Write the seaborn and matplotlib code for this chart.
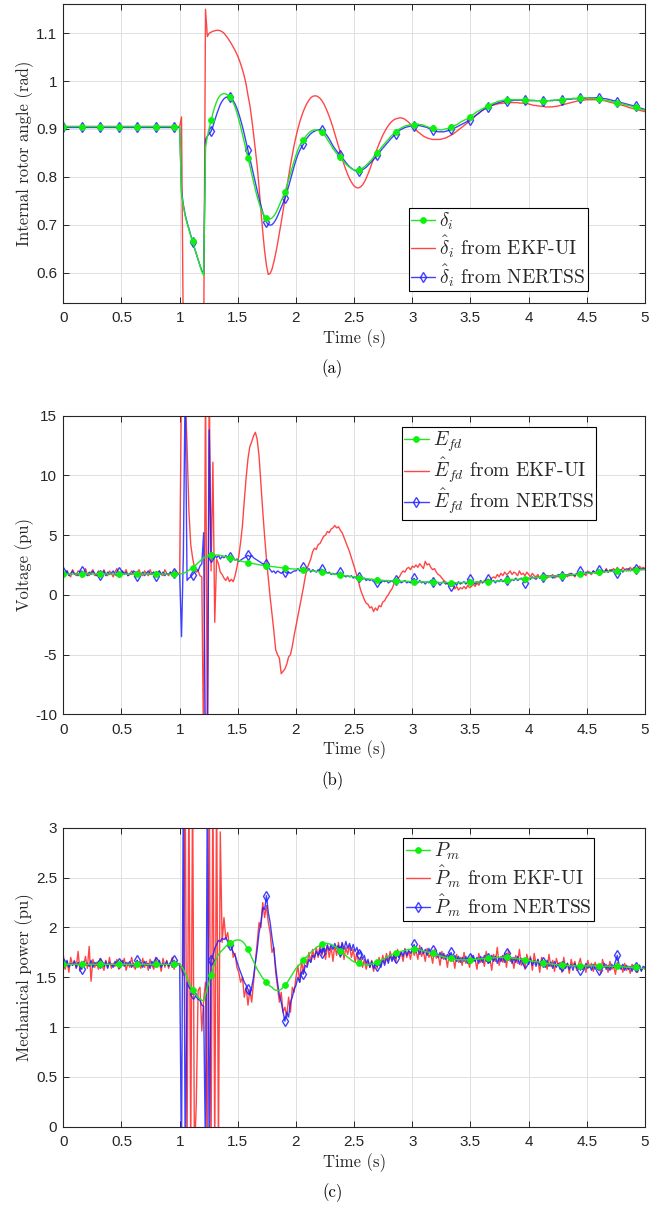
import numpy as np
import matplotlib
matplotlib.use("Agg")
import matplotlib.pyplot as plt
import seaborn as sns
from matplotlib.ticker import FuncFormatter

# ---------------- data (sampled every 1/63 s, 0..5 s, 316 samples) ----------------
time_start, time_end, n_samples = 0.0, 5.0, 316

# Panel (a): internal rotor angle (rad)
delta_true = [
    0.905, 0.905, 0.905, 0.905, 0.905, 0.905, 0.905,
    0.905, 0.905, 0.905, 0.905, 0.905, 0.905, 0.905,
    0.905, 0.905, 0.905, 0.905, 0.905, 0.905, 0.905,
    0.905, 0.905, 0.905, 0.905, 0.905, 0.905, 0.905,
    0.905, 0.905, 0.905, 0.905, 0.905, 0.905, 0.905,
    0.905, 0.905, 0.905, 0.905, 0.905, 0.905, 0.905,
    0.905, 0.905, 0.905, 0.905, 0.905, 0.905, 0.905,
    0.905, 0.905, 0.905, 0.905, 0.905, 0.905, 0.905,
    0.905, 0.905, 0.905, 0.905, 0.905, 0.905, 0.905,
    0.905, 0.765, 0.738, 0.718, 0.703, 0.690, 0.677,
    0.665, 0.652, 0.640, 0.627, 0.614, 0.602, 0.594,
    0.862, 0.884, 0.902, 0.918, 0.933, 0.946, 0.957,
    0.965, 0.970, 0.973, 0.974, 0.973, 0.971, 0.967,
    0.962, 0.955, 0.946, 0.934, 0.920, 0.905, 0.889,
    0.872, 0.856, 0.840, 0.823, 0.806, 0.789, 0.773,
    0.758, 0.745, 0.733, 0.724, 0.717, 0.713, 0.711,
    0.712, 0.714, 0.718, 0.724, 0.732, 0.741, 0.750,
    0.759, 0.769, 0.781, 0.794, 0.807, 0.820, 0.833,
    0.845, 0.856, 0.865, 0.871, 0.877, 0.883, 0.888,
    0.892, 0.895, 0.897, 0.898, 0.898, 0.897, 0.895,
    0.893, 0.889, 0.884, 0.878, 0.872, 0.866, 0.859,
    0.854, 0.849, 0.845, 0.841, 0.836, 0.831, 0.827,
    0.823, 0.820, 0.817, 0.815, 0.814, 0.814, 0.815,
    0.816, 0.818, 0.821, 0.824, 0.828, 0.832, 0.836,
    0.841, 0.845, 0.850, 0.855, 0.860, 0.865, 0.869,
    0.874, 0.878, 0.883, 0.887, 0.891, 0.894, 0.897,
    0.900, 0.902, 0.904, 0.906, 0.907, 0.908, 0.909,
    0.909, 0.909, 0.910, 0.910, 0.909, 0.909, 0.908,
    0.906, 0.905, 0.903, 0.902, 0.901, 0.900, 0.899,
    0.899, 0.898, 0.898, 0.899, 0.900, 0.901, 0.902,
    0.903, 0.905, 0.907, 0.909, 0.911, 0.914, 0.916,
    0.918, 0.920, 0.922, 0.924, 0.927, 0.930, 0.933,
    0.936, 0.938, 0.940, 0.942, 0.944, 0.946, 0.948,
    0.950, 0.952, 0.954, 0.955, 0.957, 0.958, 0.959,
    0.960, 0.960, 0.961, 0.961, 0.961, 0.961, 0.961,
    0.961, 0.961, 0.961, 0.961, 0.961, 0.961, 0.960,
    0.960, 0.960, 0.960, 0.960, 0.959, 0.959, 0.959,
    0.959, 0.959, 0.959, 0.959, 0.959, 0.960, 0.960,
    0.960, 0.960, 0.961, 0.961, 0.961, 0.962, 0.962,
    0.963, 0.963, 0.963, 0.964, 0.964, 0.964, 0.965,
    0.965, 0.965, 0.965, 0.965, 0.965, 0.964, 0.964,
    0.964, 0.963, 0.963, 0.963, 0.962, 0.961, 0.960,
    0.960, 0.959, 0.958, 0.957, 0.956, 0.956, 0.955,
    0.954, 0.953, 0.952, 0.951, 0.950, 0.949, 0.948,
    0.947, 0.946, 0.945, 0.943, 0.942, 0.941, 0.940,
    0.938,
]

delta_ekf = [
    0.905, 0.905, 0.905, 0.905, 0.905, 0.905, 0.905,
    0.905, 0.905, 0.905, 0.905, 0.905, 0.905, 0.905,
    0.905, 0.905, 0.905, 0.905, 0.905, 0.905, 0.905,
    0.905, 0.905, 0.905, 0.905, 0.905, 0.905, 0.905,
    0.905, 0.905, 0.905, 0.905, 0.905, 0.905, 0.905,
    0.905, 0.905, 0.905, 0.905, 0.905, 0.905, 0.905,
    0.905, 0.905, 0.905, 0.905, 0.905, 0.905, 0.905,
    0.905, 0.905, 0.905, 0.905, 0.905, 0.905, 0.905,
    0.905, 0.905, 0.905, 0.905, 0.905, 0.905, 0.905,
    0.905, 0.925, 0.450, 0.450, 0.450, 0.450, 0.450,
    0.450, 0.450, 0.450, 0.450, 0.450, 0.450, 0.450,
    1.150, 1.093, 1.100, 1.102, 1.104, 1.105, 1.106,
    1.106, 1.105, 1.103, 1.100, 1.095, 1.090, 1.084,
    1.078, 1.071, 1.064, 1.056, 1.047, 1.036, 1.024,
    1.010, 0.993, 0.970, 0.950, 0.922, 0.890, 0.856,
    0.822, 0.778, 0.730, 0.685, 0.645, 0.615, 0.596,
    0.598, 0.607, 0.622, 0.640, 0.660, 0.682, 0.705,
    0.729, 0.754, 0.778, 0.802, 0.825, 0.846, 0.866,
    0.884, 0.900, 0.914, 0.926, 0.937, 0.946, 0.954,
    0.960, 0.965, 0.968, 0.969, 0.969, 0.967, 0.964,
    0.959, 0.953, 0.945, 0.936, 0.926, 0.915, 0.903,
    0.890, 0.877, 0.864, 0.851, 0.838, 0.826, 0.815,
    0.805, 0.796, 0.789, 0.783, 0.779, 0.777, 0.777,
    0.779, 0.783, 0.789, 0.797, 0.806, 0.816, 0.827,
    0.838, 0.849, 0.859, 0.869, 0.878, 0.887, 0.894,
    0.901, 0.907, 0.912, 0.916, 0.919, 0.921, 0.922,
    0.923, 0.923, 0.922, 0.920, 0.917, 0.914, 0.910,
    0.906, 0.902, 0.898, 0.894, 0.891, 0.888, 0.885,
    0.883, 0.881, 0.880, 0.879, 0.878, 0.878, 0.878,
    0.878, 0.878, 0.879, 0.880, 0.881, 0.883, 0.885,
    0.887, 0.889, 0.892, 0.895, 0.898, 0.901, 0.904,
    0.907, 0.910, 0.913, 0.916, 0.920, 0.923, 0.927,
    0.930, 0.933, 0.936, 0.939, 0.942, 0.944, 0.946,
    0.948, 0.949, 0.950, 0.951, 0.952, 0.953, 0.953,
    0.954, 0.954, 0.955, 0.955, 0.955, 0.955, 0.955,
    0.955, 0.955, 0.954, 0.954, 0.954, 0.953, 0.953,
    0.952, 0.951, 0.950, 0.949, 0.949, 0.948, 0.948,
    0.947, 0.947, 0.946, 0.946, 0.946, 0.946, 0.946,
    0.947, 0.947, 0.948, 0.949, 0.950, 0.951, 0.952,
    0.953, 0.954, 0.955, 0.956, 0.957, 0.958, 0.959,
    0.959, 0.960, 0.960, 0.961, 0.961, 0.961, 0.961,
    0.961, 0.961, 0.961, 0.961, 0.960, 0.960, 0.959,
    0.958, 0.957, 0.956, 0.955, 0.954, 0.953, 0.952,
    0.951, 0.950, 0.949, 0.948, 0.947, 0.945, 0.944,
    0.943, 0.942, 0.941, 0.940, 0.939, 0.938, 0.937,
    0.936,
]

delta_nertss = [
    0.903, 0.903, 0.903, 0.903, 0.903, 0.903, 0.903,
    0.903, 0.903, 0.903, 0.903, 0.903, 0.903, 0.903,
    0.903, 0.903, 0.903, 0.903, 0.903, 0.903, 0.903,
    0.903, 0.903, 0.903, 0.903, 0.903, 0.903, 0.903,
    0.903, 0.903, 0.903, 0.903, 0.903, 0.903, 0.903,
    0.903, 0.903, 0.903, 0.903, 0.903, 0.903, 0.903,
    0.903, 0.903, 0.903, 0.903, 0.903, 0.903, 0.903,
    0.903, 0.903, 0.903, 0.903, 0.903, 0.903, 0.903,
    0.903, 0.903, 0.903, 0.903, 0.903, 0.903, 0.903,
    0.903, 0.770, 0.742, 0.721, 0.705, 0.692, 0.678,
    0.664, 0.651, 0.639, 0.627, 0.615, 0.604, 0.598,
    0.878, 0.885, 0.890, 0.895, 0.905, 0.918, 0.930,
    0.941, 0.951, 0.958, 0.963, 0.966, 0.967, 0.967,
    0.964, 0.959, 0.952, 0.943, 0.932, 0.919, 0.905,
    0.889, 0.872, 0.856, 0.839, 0.822, 0.805, 0.788,
    0.771, 0.755, 0.740, 0.726, 0.714, 0.705, 0.700,
    0.699, 0.700, 0.704, 0.710, 0.718, 0.727, 0.736,
    0.745, 0.755, 0.767, 0.780, 0.794, 0.808, 0.822,
    0.835, 0.846, 0.855, 0.862, 0.868, 0.875, 0.881,
    0.886, 0.890, 0.893, 0.895, 0.897, 0.898, 0.898,
    0.897, 0.894, 0.890, 0.885, 0.879, 0.872, 0.865,
    0.859, 0.854, 0.849, 0.845, 0.840, 0.835, 0.830,
    0.825, 0.821, 0.818, 0.815, 0.813, 0.812, 0.812,
    0.813, 0.815, 0.817, 0.820, 0.824, 0.828, 0.832,
    0.836, 0.840, 0.845, 0.850, 0.855, 0.860, 0.864,
    0.869, 0.873, 0.878, 0.882, 0.886, 0.890, 0.894,
    0.897, 0.899, 0.901, 0.903, 0.904, 0.905, 0.906,
    0.906, 0.906, 0.907, 0.907, 0.907, 0.906, 0.905,
    0.904, 0.903, 0.901, 0.899, 0.897, 0.896, 0.895,
    0.894, 0.894, 0.894, 0.894, 0.895, 0.896, 0.897,
    0.899, 0.900, 0.902, 0.904, 0.906, 0.908, 0.910,
    0.912, 0.914, 0.916, 0.918, 0.921, 0.924, 0.927,
    0.930, 0.933, 0.936, 0.939, 0.941, 0.943, 0.945,
    0.947, 0.949, 0.951, 0.953, 0.954, 0.955, 0.956,
    0.957, 0.958, 0.958, 0.959, 0.959, 0.959, 0.960,
    0.960, 0.960, 0.960, 0.960, 0.960, 0.960, 0.960,
    0.960, 0.959, 0.959, 0.959, 0.959, 0.959, 0.959,
    0.959, 0.959, 0.959, 0.959, 0.959, 0.959, 0.959,
    0.960, 0.960, 0.960, 0.960, 0.961, 0.961, 0.961,
    0.962, 0.962, 0.962, 0.963, 0.963, 0.963, 0.964,
    0.964, 0.964, 0.964, 0.964, 0.965, 0.965, 0.965,
    0.965, 0.965, 0.965, 0.964, 0.964, 0.964, 0.963,
    0.963, 0.962, 0.961, 0.960, 0.959, 0.958, 0.957,
    0.956, 0.955, 0.954, 0.953, 0.952, 0.951, 0.950,
    0.949, 0.948, 0.947, 0.946, 0.944, 0.943, 0.942,
    0.940,
]

# Panel (b): field voltage (pu)
efd_true = [
    1.74, 1.74, 1.74, 1.74, 1.74, 1.74, 1.74,
    1.74, 1.74, 1.74, 1.74, 1.74, 1.74, 1.74,
    1.74, 1.74, 1.74, 1.74, 1.74, 1.74, 1.74,
    1.74, 1.74, 1.74, 1.74, 1.74, 1.74, 1.74,
    1.74, 1.74, 1.74, 1.74, 1.74, 1.74, 1.74,
    1.74, 1.74, 1.74, 1.74, 1.74, 1.74, 1.74,
    1.74, 1.74, 1.74, 1.74, 1.74, 1.74, 1.74,
    1.74, 1.74, 1.74, 1.74, 1.74, 1.74, 1.74,
    1.74, 1.74, 1.74, 1.74, 1.74, 1.74, 1.74,
    1.74, 1.76, 1.80, 1.87, 1.96, 2.06, 2.17,
    2.28, 2.40, 2.53, 2.67, 2.82, 2.97, 3.10,
    3.19, 3.25, 3.28, 3.30, 3.32, 3.33, 3.33,
    3.32, 3.30, 3.27, 3.23, 3.18, 3.13, 3.08,
    3.03, 2.99, 2.95, 2.91, 2.87, 2.83, 2.79,
    2.76, 2.73, 2.70, 2.67, 2.64, 2.61, 2.58,
    2.55, 2.52, 2.49, 2.47, 2.45, 2.43, 2.41,
    2.39, 2.37, 2.35, 2.33, 2.31, 2.29, 2.27,
    2.25, 2.23, 2.21, 2.20, 2.18, 2.17, 2.16,
    2.15, 2.14, 2.13, 2.12, 2.11, 2.09, 2.07,
    2.05, 2.02, 2.00, 1.98, 1.96, 1.94, 1.91,
    1.89, 1.87, 1.85, 1.82, 1.80, 1.78, 1.75,
    1.73, 1.71, 1.68, 1.66, 1.64, 1.62, 1.59,
    1.57, 1.55, 1.53, 1.51, 1.48, 1.46, 1.44,
    1.42, 1.40, 1.38, 1.36, 1.34, 1.32, 1.30,
    1.28, 1.26, 1.24, 1.23, 1.22, 1.21, 1.20,
    1.19, 1.19, 1.18, 1.17, 1.17, 1.16, 1.15,
    1.15, 1.14, 1.14, 1.13, 1.13, 1.12, 1.12,
    1.11, 1.10, 1.10, 1.09, 1.09, 1.08, 1.08,
    1.08, 1.07, 1.07, 1.06, 1.05, 1.05, 1.04,
    1.04, 1.04, 1.03, 1.03, 1.03, 1.03, 1.02,
    1.02, 1.02, 1.02, 1.02, 1.02, 1.03, 1.03,
    1.03, 1.04, 1.04, 1.05, 1.05, 1.06, 1.06,
    1.07, 1.07, 1.08, 1.08, 1.09, 1.09, 1.10,
    1.11, 1.12, 1.13, 1.14, 1.15, 1.16, 1.17,
    1.19, 1.20, 1.22, 1.23, 1.24, 1.26, 1.27,
    1.29, 1.30, 1.31, 1.33, 1.34, 1.36, 1.37,
    1.38, 1.40, 1.41, 1.43, 1.44, 1.46, 1.47,
    1.49, 1.50, 1.51, 1.53, 1.54, 1.55, 1.56,
    1.57, 1.58, 1.59, 1.60, 1.61, 1.62, 1.64,
    1.65, 1.67, 1.68, 1.69, 1.71, 1.72, 1.74,
    1.75, 1.76, 1.78, 1.79, 1.81, 1.82, 1.83,
    1.85, 1.86, 1.88, 1.89, 1.90, 1.91, 1.92,
    1.93, 1.94, 1.95, 1.96, 1.97, 1.98, 2.00,
    2.01, 2.01, 2.02, 2.03, 2.04, 2.04, 2.05,
    2.06, 2.07, 2.08, 2.08, 2.09, 2.09, 2.10,
    2.10,
]

efd_ekf = [
    1.9, 1.6, 2.0, 1.7, 1.5, 2.1, 1.8,
    1.6, 2.0, 1.9, 1.5, 1.8, 2.2, 1.7,
    1.6, 1.9, 2.1, 1.6, 1.7, 2.0, 1.5,
    1.8, 2.1, 1.7, 1.6, 2.0, 1.8, 1.5,
    1.9, 2.2, 1.7, 1.6, 1.9, 1.8, 2.1,
    1.6, 1.7, 2.0, 1.8, 1.5, 1.9, 2.1,
    1.7, 1.6, 2.0, 1.8, 1.6, 2.1, 1.7,
    1.9, 1.5, 1.8, 2.0, 1.7, 1.6, 2.1,
    1.8, 1.6, 1.9, 1.7, 2.0, 1.6, 1.8,
    1.8, 18.0, 20.0, 17.0, 12.5, 7.0, 4.2,
    3.1, 2.3, 1.9, 2.0, 1.6, 1.5, -14.0,
    18.0, -14.0, 18.0, 2.0, 11.1, -2.3, 3.0,
    2.6, 1.9, 1.7, 1.4, 1.2, 1.5, 1.1,
    1.3, 1.1, 1.6, 2.3, 3.2, 4.4, 5.8,
    7.9, 9.8, 11.4, 12.4, 12.8, 13.3, 13.6,
    13.0, 11.6, 9.3, 7.0, 4.9, 3.0, 1.4,
    -0.2, -1.6, -3.0, -4.6, -5.0, -5.3, -6.6,
    -6.4, -6.2, -5.8, -5.2, -5.0, -4.3, -3.4,
    -2.6, -1.8, -1.0, -0.2, 0.6, 1.5, 2.2,
    2.6, 3.0, 3.6, 3.9, 3.8, 4.2, 4.3,
    4.6, 4.9, 5.0, 5.3, 5.2, 5.5, 5.6,
    5.8, 5.6, 5.7, 5.4, 5.2, 4.8, 4.4,
    4.0, 3.6, 3.1, 2.6, 2.1, 1.6, 1.0,
    0.4, 0.0, -0.4, -0.7, -0.8, -1.1, -1.0,
    -1.4, -1.1, -1.3, -0.9, -1.0, -0.6, -0.5,
    -0.2, 0.0, 0.3, 0.5, 0.9, 1.1, 1.4,
    1.5, 1.8, 2.0, 1.9, 2.2, 2.3, 2.1,
    2.4, 2.3, 2.5, 2.3, 2.6, 2.4, 2.2,
    2.8, 2.5, 2.6, 2.3, 2.1, 2.2, 1.9,
    1.7, 1.6, 1.4, 1.2, 1.1, 0.9, 1.0,
    0.7, 0.8, 0.5, 0.7, 0.4, 0.6, 0.5,
    0.7, 0.5, 0.8, 0.6, 0.7, 0.9, 0.7,
    1.0, 0.8, 1.1, 1.0, 1.2, 1.1, 1.3,
    1.2, 1.4, 1.5, 1.4, 1.7, 1.5, 1.8,
    1.6, 1.9, 1.7, 1.8, 2.0, 1.7, 1.9,
    1.8, 1.6, 2.0, 1.7, 1.8, 1.6, 1.9,
    1.7, 1.5, 1.8, 1.6, 1.5, 1.7, 1.4,
    1.6, 1.5, 1.7, 1.4, 1.6, 1.5, 1.7,
    1.4, 1.6, 1.5, 1.7, 1.6, 1.4, 1.7,
    1.5, 1.8, 1.6, 1.7, 1.5, 1.8, 1.6,
    1.9, 1.7, 1.8, 1.6, 2.0, 1.8, 1.7,
    2.0, 1.8, 1.9, 2.1, 1.8, 2.0, 1.9,
    2.2, 1.9, 2.1, 2.0, 2.2, 2.0, 2.3,
    2.1, 2.0, 2.3, 2.1, 2.2, 2.0, 2.3,
    2.1, 2.3, 2.2, 2.1, 2.4, 2.2, 2.3,
    2.2,
]

efd_nertss = [
    1.9, 1.7, 2.0, 1.6, 1.8, 2.0, 1.7,
    1.8, 1.6, 1.9, 2.0, 1.7, 1.8, 1.6,
    1.9, 1.7, 2.0, 1.8, 1.6, 1.9, 1.7,
    1.8, 2.0, 1.6, 1.9, 1.7, 1.8, 2.0,
    1.7, 1.6, 1.9, 1.8, 2.0, 1.7, 1.9,
    1.6, 1.8, 1.7, 2.0, 1.9, 1.6, 1.8,
    1.7, 1.9, 1.6, 1.8, 2.0, 1.7, 1.8,
    1.9, 1.6, 1.8, 2.0, 1.7, 1.9, 1.6,
    1.8, 1.7, 1.9, 1.6, 1.8, 2.0, 1.7,
    1.7, -3.5, 3.3, 18.0, 1.2, 1.4, 1.5,
    1.7, 1.9, 2.2, 2.0, 2.4, 2.6, 5.2,
    -14.0, -14.0, 13.8, 3.2, 3.0, 3.3, 3.1,
    3.3, 3.0, 3.2, 3.1, 3.3, 3.0, 3.2,
    3.0, 3.1, 2.9, 3.0, 2.8, 2.9, 3.0,
    3.1, 3.2, 3.3, 3.2, 3.3, 3.1, 3.0,
    2.9, 2.8, 2.7, 2.6, 2.5, 2.6, 2.3,
    2.1, 1.9, 2.0, 1.8, 2.0, 1.9, 1.8,
    1.9, 1.95, 1.8, 1.9, 1.8, 1.9, 2.0,
    2.0, 2.2, 2.0, 2.1, 2.3, 2.1, 2.0,
    2.2, 1.9, 2.1, 2.0, 1.9, 2.1, 2.0,
    2.15, 1.9, 2.0, 1.8, 1.9, 1.7, 1.8,
    1.7, 1.8, 1.6, 1.9, 1.7, 1.6, 1.5,
    1.6, 1.5, 1.6, 1.4, 1.5, 1.3, 1.45,
    1.4, 1.3, 1.4, 1.2, 1.3, 1.2, 1.3,
    1.1, 1.2, 1.1, 1.2, 1.0, 1.2, 1.1,
    1.2, 1.0, 1.1, 1.2, 1.0, 1.24, 1.1,
    1.2, 1.0, 1.1, 1.2, 1.0, 1.1, 1.0,
    1.2, 1.38, 1.1, 1.0, 1.2, 1.0, 1.1,
    0.9, 1.1, 1.0, 1.2, 1.1, 0.9, 1.1,
    1.0, 0.8, 1.0, 1.1, 0.9, 1.0, 0.8,
    0.7, 0.9, 1.0, 0.8, 1.1, 0.9, 1.0,
    1.1, 0.9, 1.1, 1.3, 1.0, 1.1, 0.9,
    1.1, 1.0, 1.2, 1.0, 1.1, 1.2, 1.3,
    1.0, 1.1, 1.2, 1.0, 1.2, 1.1, 1.3,
    1.1, 1.2, 1.2, 1.3, 1.1, 1.3, 1.2,
    1.4, 1.2, 1.3, 1.4, 1.2, 1.0, 1.3,
    1.4, 1.3, 1.5, 1.4, 1.3, 1.5, 1.4,
    1.6, 1.5, 1.4, 1.6, 1.5, 1.6, 1.4,
    1.6, 1.5, 1.7, 1.6, 1.55, 1.7, 1.6,
    1.7, 1.6, 1.8, 1.7, 1.6, 1.8, 1.7,
    1.97, 1.8, 1.7, 1.9, 1.8, 1.9, 1.8,
    2.0, 1.9, 1.8, 2.05, 1.9, 2.0, 1.9,
    2.1, 1.9, 2.0, 2.1, 1.9, 2.1, 1.8,
    2.0, 2.1, 1.9, 2.1, 2.0, 2.2, 2.0,
    2.1, 2.1, 2.2, 2.0, 2.2, 2.1, 2.2,
    2.1,
]

# Panel (c): mechanical power (pu)
pm_true = [
    1.63, 1.63, 1.63, 1.63, 1.63, 1.63, 1.63,
    1.63, 1.63, 1.63, 1.63, 1.63, 1.63, 1.63,
    1.63, 1.63, 1.63, 1.63, 1.63, 1.63, 1.63,
    1.63, 1.63, 1.63, 1.63, 1.63, 1.63, 1.63,
    1.63, 1.63, 1.63, 1.63, 1.63, 1.63, 1.63,
    1.63, 1.63, 1.63, 1.63, 1.63, 1.63, 1.63,
    1.63, 1.63, 1.63, 1.63, 1.63, 1.63, 1.63,
    1.63, 1.63, 1.63, 1.63, 1.63, 1.63, 1.63,
    1.63, 1.63, 1.63, 1.63, 1.63, 1.63, 1.63,
    1.63, 1.61, 1.58, 1.54, 1.50, 1.45, 1.41,
    1.37, 1.34, 1.32, 1.30, 1.28, 1.27, 1.26,
    1.33, 1.40, 1.46, 1.52, 1.58, 1.64, 1.69,
    1.73, 1.75, 1.77, 1.79, 1.81, 1.83, 1.84,
    1.85, 1.86, 1.87, 1.875, 1.875, 1.87, 1.86,
    1.84, 1.81, 1.78, 1.74, 1.70, 1.66, 1.62,
    1.58, 1.55, 1.52, 1.49, 1.47, 1.45, 1.43,
    1.41, 1.40, 1.38, 1.37, 1.37, 1.37, 1.38,
    1.40, 1.42, 1.44, 1.47, 1.50, 1.53, 1.56,
    1.59, 1.61, 1.63, 1.65, 1.67, 1.69, 1.71,
    1.73, 1.75, 1.77, 1.78, 1.80, 1.81, 1.82,
    1.83, 1.835, 1.84, 1.84, 1.835, 1.83, 1.82,
    1.81, 1.80, 1.78, 1.765, 1.75, 1.73, 1.72,
    1.70, 1.69, 1.67, 1.66, 1.65, 1.645, 1.64,
    1.635, 1.63, 1.625, 1.625, 1.625, 1.63, 1.635,
    1.64, 1.645, 1.65, 1.66, 1.67, 1.68, 1.69,
    1.70, 1.71, 1.72, 1.73, 1.735, 1.74, 1.75,
    1.755, 1.76, 1.765, 1.77, 1.775, 1.78, 1.78,
    1.78, 1.78, 1.78, 1.78, 1.775, 1.77, 1.765,
    1.76, 1.755, 1.75, 1.745, 1.74, 1.735, 1.73,
    1.72, 1.715, 1.71, 1.705, 1.70, 1.695, 1.69,
    1.69, 1.685, 1.68, 1.68, 1.675, 1.675, 1.675,
    1.675, 1.675, 1.675, 1.675, 1.675, 1.68, 1.68,
    1.68, 1.685, 1.685, 1.685, 1.69, 1.69, 1.69,
    1.69, 1.695, 1.695, 1.695, 1.70, 1.70, 1.70,
    1.70, 1.70, 1.70, 1.70, 1.695, 1.695, 1.69,
    1.69, 1.685, 1.685, 1.68, 1.68, 1.675, 1.67,
    1.67, 1.665, 1.66, 1.66, 1.655, 1.655, 1.65,
    1.65, 1.645, 1.64, 1.64, 1.635, 1.635, 1.63,
    1.63, 1.625, 1.625, 1.62, 1.62, 1.62, 1.62,
    1.62, 1.615, 1.615, 1.615, 1.615, 1.615, 1.615,
    1.615, 1.615, 1.615, 1.615, 1.615, 1.615, 1.615,
    1.615, 1.615, 1.61, 1.61, 1.61, 1.61, 1.61,
    1.61, 1.61, 1.61, 1.61, 1.61, 1.61, 1.61,
    1.61, 1.605, 1.605, 1.605, 1.60, 1.60, 1.60,
    1.60, 1.60, 1.60, 1.595, 1.595, 1.59, 1.59,
    1.585,
]

pm_ekf = [
    1.72, 1.58, 1.66, 1.55, 1.70, 1.62, 1.67,
    1.60, 1.76, 1.56, 1.66, 1.61, 1.71, 1.59,
    1.81, 1.46, 1.68, 1.60, 1.65, 1.58, 1.69,
    1.62, 1.57, 1.67, 1.60, 1.70, 1.59, 1.64,
    1.61, 1.68, 1.58, 1.66, 1.62, 1.69, 1.57,
    1.65, 1.60, 1.70, 1.61, 1.58, 1.67, 1.63,
    1.59, 1.69, 1.60, 1.66, 1.57, 1.68, 1.62,
    1.58, 1.70, 1.61, 1.65, 1.56, 1.69, 1.60,
    1.67, 1.59, 1.64, 1.70, 1.58, 1.66, 1.62,
    1.64, 1.58, 1.52, 3.5, -0.3, 3.5, -0.3,
    3.5, -0.3, 0.23, 1.37, 1.40, 0.96, 1.28,
    1.45, -0.3, 3.5, -0.3, 3.5, -0.3, 3.5,
    -0.3, 2.96, 1.85, 2.10, 1.88, 1.95, 1.80,
    1.85, 1.70, 1.74, 1.60, 1.55, 1.45, 1.50,
    1.30, 1.40, 1.22, 1.38, 1.25, 1.45, 1.65,
    1.85, 2.05, 2.00, 2.25, 2.10, 2.22, 2.05,
    1.95, 1.75, 1.80, 1.55, 1.40, 1.25, 1.35,
    1.15, 1.20, 1.10, 1.30, 1.15, 1.40, 1.35,
    1.50, 1.62, 1.45, 1.66, 1.55, 1.70, 1.62,
    1.75, 1.65, 1.78, 1.68, 1.80, 1.70, 1.82,
    1.72, 1.80, 1.68, 1.83, 1.70, 1.81, 1.66,
    1.82, 1.72, 1.85, 1.70, 1.84, 1.68, 1.80,
    1.73, 1.82, 1.70, 1.78, 1.65, 1.75, 1.62,
    1.70, 1.60, 1.68, 1.58, 1.66, 1.60, 1.67,
    1.56, 1.65, 1.59, 1.70, 1.62, 1.72, 1.64,
    1.74, 1.66, 1.76, 1.68, 1.72, 1.65, 1.78,
    1.70, 1.75, 1.66, 1.79, 1.70, 1.76, 1.68,
    1.80, 1.72, 1.77, 1.68, 1.82, 1.71, 1.76,
    1.66, 1.79, 1.70, 1.74, 1.64, 1.78, 1.69,
    1.73, 1.62, 1.76, 1.68, 1.72, 1.60, 1.74,
    1.66, 1.71, 1.59, 1.73, 1.65, 1.70, 1.62,
    1.75, 1.64, 1.69, 1.60, 1.72, 1.66, 1.68,
    1.58, 1.74, 1.65, 1.70, 1.61, 1.76, 1.64,
    1.69, 1.57, 1.73, 1.66, 1.80, 1.62, 1.71,
    1.65, 1.74, 1.60, 1.77, 1.66, 1.70, 1.59,
    1.72, 1.64, 1.78, 1.62, 1.69, 1.58, 1.73,
    1.65, 1.71, 1.57, 1.74, 1.63, 1.68, 1.55,
    1.70, 1.62, 1.66, 1.58, 1.73, 1.61, 1.67,
    1.56, 1.69, 1.62, 1.65, 1.55, 1.70, 1.60,
    1.64, 1.54, 1.68, 1.61, 1.66, 1.57, 1.63,
    1.69, 1.58, 1.62, 1.55, 1.67, 1.60, 1.64,
    1.56, 1.65, 1.59, 1.62, 1.54, 1.68, 1.60,
    1.63, 1.55, 1.66, 1.58, 1.61, 1.53, 1.65,
    1.59, 1.62, 1.55, 1.64, 1.57, 1.61, 1.54,
    1.63, 1.58, 1.60, 1.55, 1.62, 1.57, 1.60,
    1.58,
]

pm_nertss = [
    1.64, 1.61, 1.67, 1.60, 1.64, 1.62, 1.66,
    1.59, 1.65, 1.61, 1.58, 1.66, 1.62, 1.64,
    1.61, 1.67, 1.60, 1.65, 1.62, 1.66, 1.64,
    1.64, 1.61, 1.66, 1.59, 1.65, 1.63, 1.60,
    1.66, 1.62, 1.64, 1.60, 1.67, 1.61, 1.65,
    1.62, 1.66, 1.60, 1.64, 1.61, 1.67, 1.62,
    1.65, 1.60, 1.66, 1.62, 1.64, 1.59, 1.66,
    1.61, 1.65, 1.62, 1.67, 1.60, 1.64, 1.62,
    1.66, 1.61, 1.65, 1.60, 1.67, 1.63, 1.64,
    1.62, -0.3, 3.5, -0.3, 1.45, 1.40, 1.38,
    1.33, 1.35, 1.30, 1.28, 1.27, 1.22, 1.21,
    -0.3, 3.5, -0.3, 1.67, 1.72, 1.79, 1.83,
    1.87, 1.86, 1.89, 1.88, 1.90, 1.86, 1.82,
    1.80, 1.75, 1.72, 1.66, 1.60, 1.55, 1.50,
    1.45, 1.42, 1.38, 1.32, 1.40, 1.50, 1.65,
    1.78, 1.95, 2.05, 2.20, 2.18, 2.32, 2.15,
    2.05, 1.90, 1.78, 1.60, 1.45, 1.32, 1.25,
    1.15, 1.06, 1.15, 1.10, 1.25, 1.30, 1.38,
    1.42, 1.50, 1.45, 1.55, 1.53, 1.62, 1.60,
    1.68, 1.65, 1.72, 1.70, 1.76, 1.72, 1.78,
    1.74, 1.80, 1.76, 1.82, 1.77, 1.83, 1.78,
    1.84, 1.79, 1.82, 1.76, 1.85, 1.78, 1.86,
    1.79, 1.84, 1.77, 1.83, 1.76, 1.80, 1.73,
    1.76, 1.68, 1.72, 1.64, 1.68, 1.60, 1.66,
    1.59, 1.64, 1.61, 1.66, 1.60, 1.68, 1.62,
    1.70, 1.64, 1.72, 1.66, 1.73, 1.69, 1.74,
    1.70, 1.76, 1.71, 1.78, 1.72, 1.77, 1.74,
    1.78, 1.83, 1.75, 1.79, 1.73, 1.80, 1.74,
    1.78, 1.72, 1.79, 1.73, 1.77, 1.71, 1.76,
    1.70, 1.75, 1.69, 1.74, 1.68, 1.73, 1.69,
    1.75, 1.68, 1.72, 1.66, 1.71, 1.65, 1.70,
    1.66, 1.71, 1.64, 1.69, 1.65, 1.72, 1.66,
    1.70, 1.64, 1.71, 1.65, 1.72, 1.66, 1.69,
    1.65, 1.72, 1.66, 1.71, 1.64, 1.70, 1.66,
    1.72, 1.65, 1.74, 1.67, 1.71, 1.64, 1.70,
    1.65, 1.71, 1.63, 1.69, 1.65, 1.64, 1.68,
    1.63, 1.69, 1.62, 1.67, 1.61, 1.68, 1.62,
    1.66, 1.65, 1.60, 1.67, 1.61, 1.65, 1.59,
    1.66, 1.60, 1.64, 1.58, 1.61, 1.65, 1.59,
    1.64, 1.58, 1.63, 1.57, 1.64, 1.59, 1.62,
    1.57, 1.63, 1.58, 1.64, 1.59, 1.62, 1.57,
    1.63, 1.58, 1.62, 1.57, 1.63, 1.59, 1.64,
    1.58, 1.62, 1.57, 1.63, 1.60, 1.66, 1.72,
    1.62, 1.58, 1.63, 1.57, 1.62, 1.58, 1.61,
    1.56, 1.62, 1.60, 1.57, 1.62, 1.56, 1.61,
    1.60,
]

x_ticks = [0, 0.5, 1, 1.5, 2, 2.5, 3, 3.5, 4, 4.5, 5]
y_ticks_a = [0.6, 0.7, 0.8, 0.9, 1.0, 1.1]
y_ticks_b = [-10, -5, 0, 5, 10, 15]
y_ticks_c = [0, 0.5, 1, 1.5, 2, 2.5, 3]

for name, arr in [("delta_true", delta_true), ("delta_ekf", delta_ekf),
                  ("delta_nertss", delta_nertss), ("efd_true", efd_true),
                  ("efd_ekf", efd_ekf), ("efd_nertss", efd_nertss),
                  ("pm_true", pm_true), ("pm_ekf", pm_ekf), ("pm_nertss", pm_nertss)]:
    if len(arr) != n_samples:
        raise ValueError(f"{name} has {len(arr)} values")

# ---------------- styling ----------------
sns.set_theme(style="ticks")
plt.rcParams.update({
    "font.family": ["Liberation Sans", "DejaVu Sans"],
    "mathtext.fontset": "cm",
    "axes.unicode_minus": False,
})

T = np.linspace(time_start, time_end, n_samples)

GREEN = (0.13, 0.90, 0.13)
GREEN_FACE = (0.05, 0.95, 0.05)
RED = (1.0, 0.15, 0.15)
BLUE = (0.12, 0.12, 1.0)
AXC = "#262626"
SERIF = "cmr10"

fig = plt.figure(figsize=(6.61, 12.06), dpi=100)

panels = [
    dict(bottom=0.7490, true=delta_true, ekf=delta_ekf, ner=delta_nertss,
         ylim=(0.537, 1.161), yticks=y_ticks_a, ylabel="Internal rotor angle (rad)",
         labels=[r"$\delta_i$", r"$\hat{\delta}_i$ from EKF-UI", r"$\hat{\delta}_i$ from NERTSS"],
         leg=dict(loc="lower right", bbox_to_anchor=(0.902, 0.039)),
         caption="(a)", cap_y=1 - 369 / 1206),
    dict(bottom=0.4077, true=efd_true, ekf=efd_ekf, ner=efd_nertss,
         ylim=(-10, 15), yticks=y_ticks_b, ylabel="Voltage (pu)",
         labels=[r"$E_{fd}$", r"$\hat{E}_{fd}$ from EKF-UI", r"$\hat{E}_{fd}$ from NERTSS"],
         leg=dict(loc="upper right", bbox_to_anchor=(0.916, 0.961)),
         caption="(b)", cap_y=1 - 781 / 1206),
    dict(bottom=0.0658, true=pm_true, ekf=pm_ekf, ner=pm_nertss,
         ylim=(0, 3), yticks=y_ticks_c, ylabel="Mechanical power (pu)",
         labels=[r"$P_m$", r"$\hat{P}_m$ from EKF-UI", r"$\hat{P}_m$ from NERTSS"],
         leg=dict(loc="upper right", bbox_to_anchor=(0.912, 0.9655)),
         caption="(c)", cap_y=1 - 1193 / 1206),
]

fmt = FuncFormatter(lambda v, p: f"{v:g}")

for p in panels:
    ax = fig.add_axes([0.0958, p["bottom"], 0.8800, 0.2477])
    sns.lineplot(x=T, y=p["ekf"], ax=ax, color=RED, lw=1.0, alpha=0.85,
                 sort=False, estimator=None, label=p["labels"][1])
    h_red = ax.lines[-1]
    sns.lineplot(x=T, y=p["ner"], ax=ax, color=BLUE, lw=1.0, alpha=0.85,
                 sort=False, estimator=None, label=p["labels"][2],
                 marker="d", markersize=5, markerfacecolor="none",
                 markeredgecolor=BLUE, markeredgewidth=1.0, markevery=10)
    h_blue = ax.lines[-1]
    sns.lineplot(x=T, y=p["true"], ax=ax, color=GREEN, lw=1.0,
                 sort=False, estimator=None, label=p["labels"][0],
                 marker="o", markersize=4.3, markerfacecolor=GREEN_FACE,
                 markeredgecolor=GREEN_FACE, markeredgewidth=0.5, markevery=10)
    h_green = ax.lines[-1]

    ax.set_xlim(0, 5)
    ax.set_ylim(*p["ylim"])
    ax.set_xticks(x_ticks)
    ax.set_yticks(p["yticks"])
    ax.xaxis.set_major_formatter(fmt)
    ax.yaxis.set_major_formatter(fmt)
    ax.grid(True, color="#e0e0e0", lw=0.7)
    ax.set_axisbelow(True)
    for s in ax.spines.values():
        s.set_visible(True)
        s.set_color(AXC)
        s.set_linewidth(0.8)
    ax.tick_params(axis="both", which="both", direction="in", top=True, right=True,
                   length=4, width=0.7, color=AXC, labelcolor=AXC, labelsize=11)
    ax.tick_params(axis="x", pad=6)
    ax.tick_params(axis="y", pad=4.5)

    ax.set_xlabel("Time (s)", fontfamily=SERIF, fontsize=12, color=AXC)
    ax.set_ylabel(p["ylabel"], fontfamily=SERIF, fontsize=12, color=AXC)
    ax.xaxis.set_label_coords(0.5, -0.088)
    ax.yaxis.set_label_coords(-0.051, 0.5)

    leg = ax.legend(handles=[h_green, h_red, h_blue], labels=p["labels"],
                    prop={"family": SERIF, "size": 14}, frameon=True, fancybox=False,
                    edgecolor="black", framealpha=1, borderpad=0.12, labelspacing=0.08,
                    handlelength=1.25, handletextpad=0.2, borderaxespad=0, **p["leg"])
    leg.get_frame().set_linewidth(0.8)

    fig.text(0.503, p["cap_y"], p["caption"], ha="center", va="center",
             fontfamily=SERIF, fontsize=12, color="black")

fig.savefig("out.png", dpi=100)
